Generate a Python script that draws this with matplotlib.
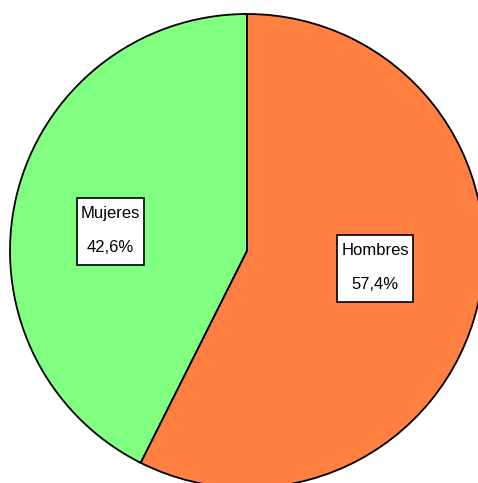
import matplotlib
matplotlib.use("Agg")
import matplotlib.pyplot as plt
from matplotlib.patches import Rectangle

# Gender split
categories = ["Mujeres", "Hombres"]
shares = [42.6, 57.4]
value_labels = ["42,6%", "57,4%"]
colors = ["#80FF80", "#FF8040"]

W, H, DPI = 478, 483, 100
fig = plt.figure(figsize=(W / DPI, H / DPI), dpi=DPI)
ax = fig.add_axes([0, 0, 1, 1])

# pie geometry in pixel units (y measured from the bottom)
cx, cy, r = 247, H - 251, 237

ax.pie(shares, colors=colors, startangle=90, counterclock=True,
       center=(cx, cy), radius=r, frame=True,
       wedgeprops=dict(edgecolor="black", linewidth=1.3))
ax.set_xlim(0, W)
ax.set_ylim(0, H)
ax.set_aspect("equal")
ax.axis("off")

# label boxes: centre (pixels from top-left) and size
label_boxes = [((110.5, 231.5), (67, 67)), ((375, 268.5), (76, 67))]
for name, val, ((lx, ly), (bw, bh)) in zip(categories, value_labels, label_boxes):
    yb = H - ly
    ax.add_patch(Rectangle((lx - bw / 2, yb - bh / 2), bw, bh,
                           facecolor="white", edgecolor="black",
                           linewidth=1.2, zorder=3))
    ax.text(lx, yb + 1, f"{name}\n\n{val}", ha="center", va="center",
            fontsize=12, family="Liberation Sans", linespacing=1.2,
            multialignment="center", zorder=4)

fig.savefig("out.png", dpi=DPI)
